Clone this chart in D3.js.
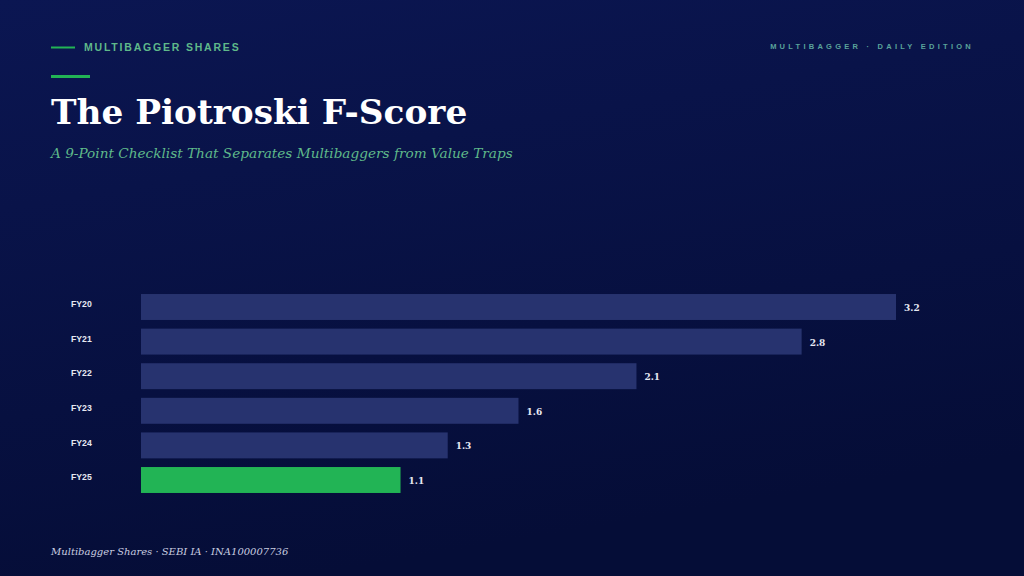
<!DOCTYPE html>
<html><head><meta charset="utf-8">
<script src="https://cdn.jsdelivr.net/npm/d3@7/dist/d3.min.js"></script>
<style>html,body{margin:0;padding:0;background:#08123f;}svg{display:block;}</style>
</head><body>
<script>
const categories = ["FY20","FY21","FY22","FY23","FY24","FY25"];
const values = [3.2, 2.8, 2.1, 1.6, 1.3, 1.1];
const highlight = ["FY25"];

const W = 1024, H = 576;
const svg = d3.select("body").append("svg").attr("width", W).attr("height", H);
const defs = svg.append("defs");
const grad = defs.append("linearGradient").attr("id","bg").attr("x1","0").attr("y1","0").attr("x2","0.3").attr("y2","1");
grad.append("stop").attr("offset","0").attr("stop-color","#0b1652");
grad.append("stop").attr("offset","1").attr("stop-color","#050d37");
svg.append("rect").attr("width",W).attr("height",H).attr("fill","url(#bg)");

// header
svg.append("line").attr("x1",51).attr("x2",75).attr("y1",47.5).attr("y2",47.5).attr("stroke","#22b455").attr("stroke-width",2);
svg.append("text").attr("x",84).attr("y",51).text("MULTIBAGGER SHARES")
  .attr("font-family","Liberation Sans, Arial, sans-serif").attr("font-weight","bold").attr("font-size",10.5)
  .attr("letter-spacing",1.8).attr("fill","#5fb98a");
svg.append("text").attr("x",974).attr("y",49).attr("text-anchor","end").text("MULTIBAGGER · DAILY EDITION")
  .attr("font-family","Liberation Sans, Arial, sans-serif").attr("font-weight","bold").attr("font-size",7.5)
  .attr("letter-spacing",3.25).attr("fill","#5aa39a");
svg.append("rect").attr("x",51).attr("y",75).attr("width",39).attr("height",3).attr("fill","#22b455");
svg.append("text").attr("x",51).attr("y",124).text("The Piotroski F-Score")
  .attr("font-family","DejaVu Serif, Georgia, serif").attr("font-weight","bold").attr("font-size",34.3)
  .attr("fill","#ffffff");
svg.append("text").attr("x",51).attr("y",158).text("A 9-Point Checklist That Separates Multibaggers from Value Traps")
  .attr("font-family","DejaVu Serif, Georgia, serif").attr("font-style","italic").attr("font-size",13.65)
  .attr("fill","#5fb98a");
svg.append("text").attr("x",51).attr("y",555).text("Multibagger Shares · SEBI IA · INA100007736")
  .attr("font-family","DejaVu Serif, Georgia, serif").attr("font-style","italic").attr("font-size",10)
  .attr("fill","#c9cde0");

// chart
const x = d3.scaleLinear().domain([0, 3.2]).range([141, 896]);
const y = d3.scaleBand().domain(categories).range([289.7, 497.3]).paddingInner(0.25).paddingOuter(0.125);

const g = svg.append("g");
g.selectAll("rect.bar").data(categories).join("rect").attr("class","bar")
  .attr("x", x(0)).attr("y", d => y(d))
  .attr("width", (d,i) => x(values[i]) - x(0)).attr("height", y.bandwidth())
  .attr("fill", d => highlight.includes(d) ? "#22b455" : "#27336f");

const yAxis = d3.axisLeft(y).tickSize(0).tickPadding(0);
const ya = svg.append("g").attr("transform","translate(71,-2.5)").call(yAxis);
ya.select(".domain").remove();
ya.selectAll("text").attr("text-anchor","start").attr("x",0)
  .attr("font-family","Liberation Sans, Arial, sans-serif").attr("font-weight","bold").attr("font-size",8.7)
  .attr("fill","#e6e8f2");

g.selectAll("text.val").data(categories).join("text").attr("class","val")
  .attr("x", (d,i) => x(values[i]) + 8).attr("y", d => y(d) + y.bandwidth()/2 + 4)
  .text((d,i) => values[i].toFixed(1))
  .attr("font-family","DejaVu Serif, Georgia, serif").attr("font-weight","bold").attr("font-size",9)
  .attr("fill","#e6e8f2");
</script>
</body></html>
